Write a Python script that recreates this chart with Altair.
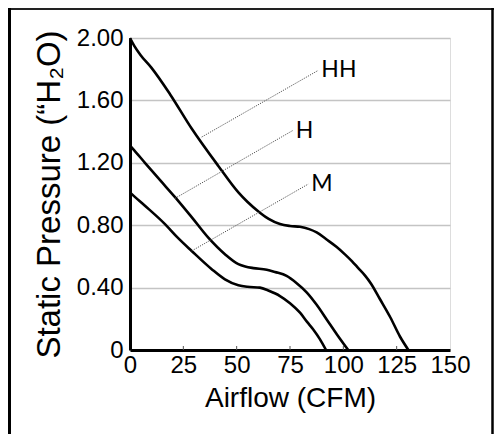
import altair as alt
import pandas as pd

# ---- data ----
hh_x = [0, 2, 5, 10, 18.75, 28.9, 41.4, 50.8, 55, 60.9, 65, 70.3, 75, 79.7, 84, 87.5, 92, 96.9, 101, 104, 107, 110, 113, 117, 122, 126.6, 130.5]
hh_y = [2.00, 1.95, 1.89, 1.81, 1.64, 1.42, 1.18, 1.01, 0.95, 0.88, 0.84, 0.807, 0.795, 0.79, 0.775, 0.754, 0.71, 0.66, 0.61, 0.57, 0.525, 0.48, 0.425, 0.33, 0.21, 0.085, 0.0]

h_x = [0, 2, 7, 14, 21.1, 29, 36.7, 44.5, 50.8, 54, 57.8, 64.1, 68, 73.4, 78, 82.8, 87.5, 92.2, 97, 102.3]
h_y = [1.31, 1.28, 1.20, 1.09, 0.98, 0.85, 0.72, 0.614, 0.55, 0.535, 0.525, 0.515, 0.50, 0.475, 0.43, 0.37, 0.29, 0.196, 0.10, 0.0]

m_x = [0, 2, 7, 16.4, 22, 28.9, 38.3, 44.5, 50.8, 55, 60.9, 65, 70.3, 75, 79.7, 83, 85.9, 89, 91.9]
m_y = [1.01, 0.985, 0.925, 0.807, 0.725, 0.635, 0.518, 0.453, 0.415, 0.405, 0.40, 0.38, 0.346, 0.30, 0.239, 0.18, 0.132, 0.07, 0.0]

label_names = ["HH", "H", "M"]
pointer_x1 = [33.6, 21.1, 28.9]
pointer_y1 = [1.365, 0.972, 0.635]
pointer_x2 = [88.3, 76.3, 83.6]
pointer_y2 = [1.793, 1.407, 1.064]

x_ticks = [0, 25, 50, 75, 100, 125, 150]
y_ticks = [0, 0.4, 0.8, 1.2, 1.6, 2.0]

FONT = "Lato"
W, H = 320, 312
PAD_L, PAD_T, PAD_R, PAD_B = 122, 30, 44, 84

rows = []
for name, xs, ys in [("HH", hh_x, hh_y), ("H", h_x, h_y), ("M", m_x, m_y)]:
    for i, (a, b) in enumerate(zip(xs, ys)):
        rows.append({"series": name, "cfm": a, "sp": b, "order": i})
curves = pd.DataFrame(rows)

pointers = pd.DataFrame({
    "name": label_names,
    "x1": pointer_x1, "y1": pointer_y1,
    "x2": pointer_x2, "y2": pointer_y2,
})

xscale = alt.Scale(domain=[0, 150], nice=False)
yscale = alt.Scale(domain=[0, 2], nice=False)

xaxis = alt.Axis(
    values=x_ticks, title="Airflow (CFM)", grid=False, ticks=False,
    labelFontSize=24, labelPadding=3, labelOverlap=False, labelFlush=False,
    titleFontSize=28, titlePadding=7, titleFontWeight="normal",
    domainColor="black", domainWidth=3,
)
yaxis = alt.Axis(
    values=y_ticks, title="Static Pressure (\u201cH\u2082O)", grid=True,
    gridColor="#c4c4c4", gridWidth=1.5, ticks=False,
    labelExpr="datum.value == 0 ? '0' : format(datum.value, '.2f')",
    labelFontSize=24, labelPadding=7, labelOverlap=False, labelFlush=False,
    titleFontSize=33, titlePadding=10, titleFontWeight="normal",
    domainColor="black", domainWidth=3,
)

lines = alt.Chart(curves).mark_line(
    interpolate="monotone", color="black", strokeWidth=2.6
).encode(
    x=alt.X("cfm:Q", scale=xscale, axis=xaxis),
    y=alt.Y("sp:Q", scale=yscale, axis=yaxis),
    detail="series:N",
    order="order:Q",
)

ptr = alt.Chart(pointers).mark_rule(
    color="#555555", strokeWidth=1, strokeDash=[1.2, 1.2]
).encode(
    x=alt.X("x1:Q", scale=xscale), y=alt.Y("y1:Q", scale=yscale),
    x2="x2:Q", y2="y2:Q",
)

labels = alt.Chart(pointers).mark_text(
    align="left", baseline="middle", dx=3, fontSize=23, font=FONT, color="black"
).encode(
    x=alt.X("x2:Q", scale=xscale), y=alt.Y("y2:Q", scale=yscale), text="name:N"
)

tick_df = pd.DataFrame({"t": x_ticks[1:-1]})
xt = alt.Chart(tick_df).mark_rule(color="#555555", strokeWidth=1).encode(
    x=alt.X("t:Q", scale=xscale), y=alt.value(H - 4), y2=alt.value(H)
)

one = pd.DataFrame({"a": [0]})
svg_h = H + PAD_T + PAD_B
frame_top = alt.Chart(one).mark_rule(color="#222222", strokeWidth=2).encode(
    x=alt.value(-PAD_L), x2=alt.value(W + PAD_R), y=alt.value(-PAD_T + 1)
)
frame_left = alt.Chart(one).mark_rule(color="black", strokeWidth=3).encode(
    x=alt.value(-PAD_L + 1.5), y=alt.value(-PAD_T), y2=alt.value(svg_h - PAD_T + 10)
)
frame_right = alt.Chart(one).mark_rule(color="black", strokeWidth=2.5).encode(
    x=alt.value(W + PAD_R - 1.5), y=alt.value(-PAD_T), y2=alt.value(svg_h - PAD_T + 10)
)

chart = alt.layer(lines, ptr, labels, xt, frame_top, frame_left, frame_right).properties(
    width=W, height=H,
    autosize=alt.AutoSizeParams(type="none"),
    padding={"left": PAD_L, "top": PAD_T, "right": PAD_R, "bottom": PAD_B},
).configure_view(
    stroke="#222222", strokeWidth=3
).configure_axis(
    labelFont=FONT, titleFont=FONT, labelColor="black", titleColor="black",
    titleFontWeight="normal",
).configure(background="white")

chart.save("out.html", embed_options={"renderer": "svg", "actions": False})
